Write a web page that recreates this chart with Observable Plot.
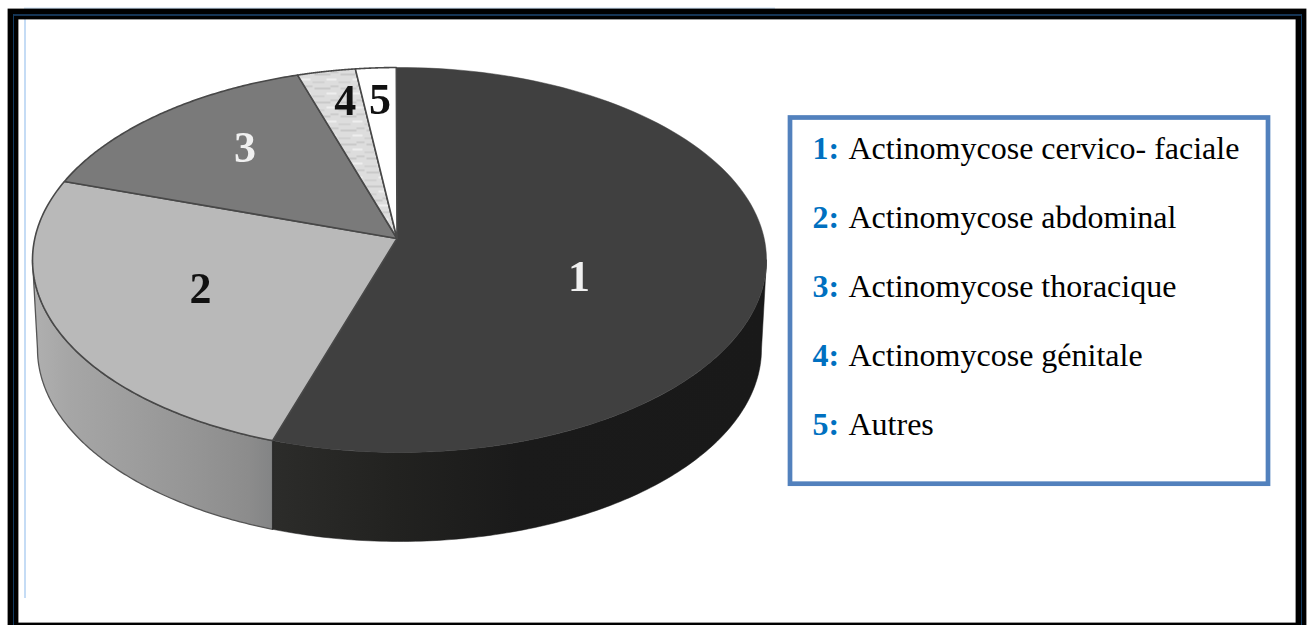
<!DOCTYPE html>
<html><head><meta charset="utf-8">
<style>html,body{margin:0;padding:0;background:#fff;overflow:hidden}svg{display:block}</style>
<script src="https://cdn.jsdelivr.net/npm/d3@7"></script>
<script src="https://cdn.jsdelivr.net/npm/@observablehq/plot@0.6"></script>
</head><body><div id="chart"></div>
<script>
// Data
const sliceKeys = ["1", "2", "3", "4", "5"];
const sliceNames = ["Actinomycose cervico- faciale", "Actinomycose abdominal", "Actinomycose thoracique", "Actinomycose génitale", "Autres"];
const sliceValues = [55.76, 26.07, 13.83, 2.56, 1.78];

// Styles
const sliceFills = ["#404040", "#b9b9b9", "#7a7a7a", "url(#hatch)", "#ffffff"];
const sideFills = ["url(#side1)", "url(#side2)"];
const labelColors = ["#f0f0f0", "#111111", "#f0f0f0", "#111111", "#111111"];

// Layout
const W = 1310, H = 625;
const top_ = {cx: 399, cy: 259.5, rx: 367, ry: 192.5};
const bottom = {cx: 399, cy: 348.5, rx: 362, ry: 192.5};
const apex = {x: 396.5, y: 238};
const startAngle = -0.5;
const labelFx = [0.5, 0.585, 0.6375, 0.73, 0.8];
const labelFy = [0.707, 0.526, 0.73, 0.826, 0.81];
const legendX = 812, legendTextX = 848, legendY0 = 148, legendStep = 69;

const rad = d => d * Math.PI / 180;
const rim = (e, a) => ({x: e.cx + e.rx * Math.sin(rad(a)), y: e.cy - e.ry * Math.cos(rad(a))});
const total = d3.sum(sliceValues);
let acc = startAngle;
const arcs = sliceValues.map(v => { const a0 = acc; acc += v / total * 360; return {a0, a1: acc}; });
const arcPts = (e, a0, a1) => d3.range(0, 121).map(i => rim(e, a0 + (a1 - a0) * i / 120));

const topPoly = ({a0, a1}) => [apex, ...arcPts(top_, a0, a1), apex];
// angle on the lower rim straight below a given angle on the upper rim (the seam is vertical)
const below = a => 180 + Math.asin(Math.sin(rad(a - 180)) * top_.rx / bottom.rx) * 180 / Math.PI;
// visible side wall runs from the right-hand extreme to the left-hand extreme
const sidePoly = (a0, b0, a1, b1) => {
  const t = arcPts(top_, a0, a1), b = arcPts(bottom, b0, b1).reverse();
  return [...t, ...b, t[0]];
};
const seam = arcs[0].a1;
const side1 = sidePoly(90, 90, seam, below(seam));
const side2 = sidePoly(seam, below(seam), 270, 270);

const labels = arcs.map(({a0, a1}, i) => {
  const r = rim(top_, (a0 + a1) / 2);
  return {k: sliceKeys[i], x: apex.x + labelFx[i] * (r.x - apex.x), y: apex.y + labelFy[i] * (r.y - apex.y), c: labelColors[i]};
});
const legend = sliceKeys.map((k, i) => ({k: k + ":", name: sliceNames[i], y: legendY0 + i * legendStep}));

const poly = (pts, o) => Plot.line(pts, {x: "x", y: "y", curve: "linear", strokeLinejoin: "round", ...o});
const serif = "'Liberation Serif','Times New Roman',serif";

const plot = Plot.plot({
  width: W, height: H, margin: 0,
  x: {domain: [0, W], range: [0, W], axis: null},
  y: {domain: [0, H], range: [0, H], axis: null},
  style: {background: "#fff"},
  marks: [
    // stray page rules and frame
    Plot.ruleX([24.5], {y1: 19, y2: 598, stroke: "#c5dcf5", strokeWidth: 2}),
    Plot.ruleY([8], {x1: 24, x2: 775, stroke: "#cfe2f5", strokeWidth: 2}),
    Plot.rect([{}], {x1: 13, x2: 1301, y1: 14, y2: 628, fill: "none", stroke: "#000", strokeWidth: 10.8}),
    Plot.ruleY([14.5], {x1: 13, x2: 1301, stroke: "#2a68a8", strokeWidth: 1}),
    Plot.ruleX([13], {y1: 14, y2: 625, stroke: "#123a60", strokeWidth: 1}),
    Plot.ruleX([1301], {y1: 14, y2: 625, stroke: "#123a60", strokeWidth: 1}),
    // side wall
    poly(side2, {fill: sideFills[1], stroke: "#555", strokeWidth: 1.3}),
    poly(side1, {fill: sideFills[0], stroke: "#1c1c1c", strokeWidth: 0.5}),
    // top face
    ...arcs.map((arc, i) => poly(topPoly(arc), {
      fill: sliceFills[i],
      stroke: i === 0 ? "#404040" : "#484848",
      strokeWidth: i === 0 ? 0.5 : 1.6
    })),
    Plot.text(labels, {x: "x", y: "y", text: "k", fill: "c", fontFamily: serif, fontSize: 44, fontWeight: "bold", textAnchor: "middle", lineAnchor: "middle"}),
    // legend box
    Plot.rect([{}], {x1: 790, x2: 1268, y1: 117.5, y2: 483.7, fill: "none", stroke: "#5281bd", strokeWidth: 4.7}),
    Plot.text(legend, {x: legendX, y: "y", text: "k", fill: "#0070c0", fontFamily: serif, fontSize: 32, fontWeight: "bold", textAnchor: "start", lineAnchor: "middle"}),
    Plot.text(legend, {x: legendTextX, y: "y", text: "name", fill: "#000", fontFamily: serif, fontSize: 32, textAnchor: "start", lineAnchor: "middle"})
  ]
});

// Gradients and hatch used by the side wall and slice 4
const svgNS = "http://www.w3.org/2000/svg";
const defs = document.createElementNS(svgNS, "defs");
const grad = (id, stops) => {
  const g = document.createElementNS(svgNS, "linearGradient");
  g.setAttribute("id", id); g.setAttribute("x1", "0"); g.setAttribute("x2", "1"); g.setAttribute("y1", "0"); g.setAttribute("y2", "0");
  stops.forEach(([o, c]) => { const s = document.createElementNS(svgNS, "stop"); s.setAttribute("offset", o); s.setAttribute("stop-color", c); g.appendChild(s); });
  defs.appendChild(g);
};
grad("side2", [[0, "#b0b0b0"], [0.15, "#a6a6a6"], [0.4, "#9e9e9e"], [0.7, "#949494"], [0.9, "#8c8c8c"], [1, "#838485"]]);
grad("side1", [[0, "#2c2c2a"], [0.25, "#222220"], [0.5, "#1a1a1a"], [1, "#191919"]]);
const pat = document.createElementNS(svgNS, "pattern");
pat.setAttribute("id", "hatch"); pat.setAttribute("patternUnits", "userSpaceOnUse"); pat.setAttribute("width", 26); pat.setAttribute("height", 14);
[[0, 26, 0, 14, "#dddddd"], [2, 16, 3, 2, "#c9c9c9"], [14, 10, 8, 2, "#eeeeee"], [0, 12, 11, 1.5, "#cdcdcd"], [18, 8, 1, 1.5, "#c6c6c6"]].forEach(([x, w, y, h, c]) => {
  const r = document.createElementNS(svgNS, "rect");
  r.setAttribute("x", x); r.setAttribute("y", y); r.setAttribute("width", w); r.setAttribute("height", h); r.setAttribute("fill", c);
  pat.appendChild(r);
});
defs.appendChild(pat);
plot.insertBefore(defs, plot.firstChild);
// soften the pie slightly, as in the scanned reference
plot.querySelectorAll('g[aria-label="line"]').forEach(g => g.style.filter = "blur(0.5px)");
const pieLabels = plot.querySelectorAll('g[aria-label="text"]')[0];
if (pieLabels) pieLabels.style.filter = "blur(0.5px)";
document.getElementById("chart").appendChild(plot);
</script></body></html>
